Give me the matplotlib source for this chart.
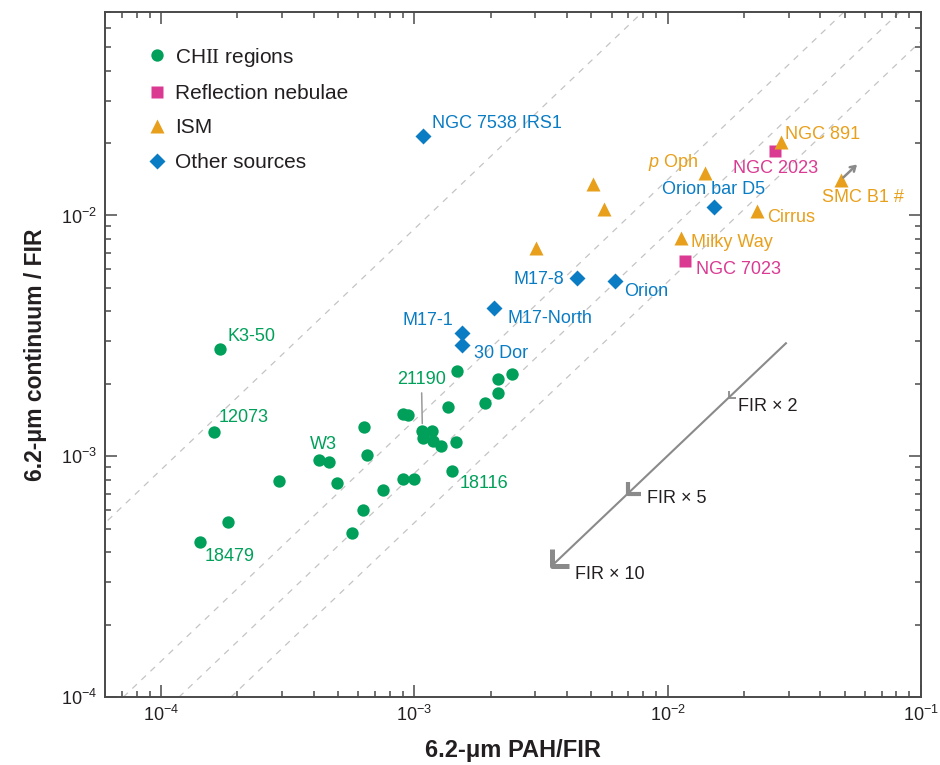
import numpy as np
import matplotlib
matplotlib.use("Agg")
import matplotlib.pyplot as plt
from matplotlib.path import Path
from matplotlib.markers import MarkerStyle
from matplotlib.ticker import LogLocator, LogFormatterSciNotation, NullFormatter

plt.rcParams["font.family"] = ["Liberation Sans", "DejaVu Sans"]
plt.rcParams["mathtext.fontset"] = "custom"
plt.rcParams["mathtext.rm"] = "Liberation Serif"
plt.rcParams["mathtext.it"] = "Liberation Sans:italic"
plt.rcParams["mathtext.bf"] = "Liberation Sans:bold"
plt.rcParams["mathtext.sf"] = "Liberation Sans"

# compact HII regions
chii_x = [1.71e-4, 1.61e-4, 1.42e-4, 1.84e-4, 2.92e-4, 4.18e-4, 4.60e-4, 4.94e-4,
          6.31e-4, 6.49e-4, 6.28e-4, 5.65e-4, 7.53e-4, 9.05e-4, 1.00e-3, 8.99e-4,
          9.44e-4, 1.075e-3, 1.17e-3, 1.078e-3, 1.18e-3, 1.274e-3, 1.455e-3,
          1.403e-3, 1.361e-3, 1.468e-3, 1.893e-3, 2.13e-3, 2.14e-3, 2.42e-3]
chii_y = [2.79e-3, 1.26e-3, 4.39e-4, 5.34e-4, 7.90e-4, 9.69e-4, 9.44e-4, 7.72e-4,
          1.328e-3, 1.01e-3, 5.96e-4, 4.81e-4, 7.22e-4, 8.08e-4, 8.03e-4, 1.504e-3,
          1.479e-3, 1.279e-3, 1.27e-3, 1.191e-3, 1.154e-3, 1.104e-3, 1.147e-3,
          8.69e-4, 1.603e-3, 2.27e-3, 1.66e-3, 2.09e-3, 1.83e-3, 2.19e-3]

# reflection nebulae
rn_names = ["NGC 2023", "NGC 7023"]
rn_x = [0.0266, 0.01167]
rn_y = [0.0186, 6.44e-3]

# diffuse ISM
ism_names = ["NGC 891", r"$\mathit{p}$ Oph", "SMC B1 #", "Cirrus", "Milky Way", "", "", ""]
ism_x = [0.0281, 0.0140, 0.0484, 0.0226, 0.01125, 5.07e-3, 5.60e-3, 3.02e-3]
ism_y = [0.0201, 0.01507, 0.0141, 0.0104, 8.03e-3, 0.01345, 0.0106, 7.36e-3]

# other sources
oth_names = ["NGC 7538 IRS1", "Orion bar D5", "M17-8", "Orion", "M17-North", "M17-1", "30 Dor"]
oth_x = [1.085e-3, 0.01518, 4.38e-3, 6.18e-3, 2.07e-3, 1.545e-3, 1.545e-3]
oth_y = [0.0213, 0.01089, 5.48e-3, 5.32e-3, 4.11e-3, 3.24e-3, 2.89e-3]

# constant continuum/PAH ratios
guide_ratios = [8.8, 1.41, 0.85, 0.53]

# FIR scaling arrow
fir_origin = (0.0348, 3.5e-3)
fir_factors = [2, 5, 10]

GREEN = "#00A05A"
MAGENTA = "#DA3A92"
ORANGE = "#E8A01C"
BLUE = "#0A7CC4"
GREY = "#8A8A8A"
INK = "#231F20"

PX = 0.72  # pixel -> point at 100 dpi

fig = plt.figure(figsize=(9.4, 7.65), dpi=100)
ax = fig.add_axes([105 / 940, 68 / 765, 816 / 940, 685 / 765])
ax.set_xscale("log")
ax.set_yscale("log")
ax.set_xlim(6e-5, 0.1)
ax.set_ylim(1e-4, 0.07)

gx = np.array([1e-5, 1.0])
for r in guide_ratios:
    ax.plot(gx, r * gx, ls=(0, (5, 5)), color="#C4C4C4", lw=0.9, zorder=1)

ax.plot(chii_x, chii_y, "o", ms=8.9, color=GREEN, mec="none", zorder=3,
        label=r"CH$\mathrm{II}$ regions")
ax.plot(rn_x, rn_y, "s", ms=8.0, color=MAGENTA, mec="none", zorder=3,
        label="Reflection nebulae")
ax.plot(ism_x, ism_y, "^", ms=9.6, color=ORANGE, mec="none", zorder=3, label="ISM")
ax.plot(oth_x, oth_y, "D", ms=8.5, color=BLUE, mec="none", zorder=4,
        label="Other sources")


def tag(text, x, y, dx, dy, color, ha="left"):
    ax.annotate(text, (x, y), xytext=(dx * PX, dy * PX), textcoords="offset points",
                ha=ha, va="center", fontsize=13, color=color, zorder=5)


# CHII labels (index into chii arrays)
tag("K3-50", chii_x[0], chii_y[0], 7, 12, GREEN)
tag("12073", chii_x[1], chii_y[1], 5, 15, GREEN)
tag("18479", chii_x[2], chii_y[2], 5, -14, GREEN)
tag("W3", chii_x[5], chii_y[5], -9, 15, GREEN)
tag("18116", chii_x[23], chii_y[23], 8, -13, GREEN)
ax.annotate("21190", (chii_x[17], chii_y[17]), xytext=(-1 * PX, 51 * PX),
            textcoords="offset points", ha="center", va="center", fontsize=13,
            color=GREEN, zorder=5,
            arrowprops=dict(arrowstyle="-", color="#9A9A9A", lw=1.1,
                            shrinkA=1.5, shrinkB=5))

rn_off = [(0, -18, "center"), (11, -8, "left")]
for name, x, y, (dx, dy, ha) in zip(rn_names, rn_x, rn_y, rn_off):
    tag(name, x, y, dx, dy, MAGENTA, ha)

ism_off = [(4, 8, "left"), (-6, 10, "right"), (22, -18, "center"),
           (10, -6, "left"), (10, -4, "left")]
for name, x, y, (dx, dy, ha) in zip(ism_names, ism_x, ism_y, ism_off):
    tag(name, x, y, dx, dy, ORANGE, ha)

oth_off = [(9, 13, "left"), (0, 17, "center"), (-13, -1, "right"), (9, -10, "left"),
           (13, -10, "left"), (-9, 13, "right"), (12, -8, "left")]
for name, x, y, (dx, dy, ha) in zip(oth_names, oth_x, oth_y, oth_off):
    tag(name, x, y, dx, dy, BLUE, ha)

# SMC B1 lower-limit arrow
ax.annotate("", xy=(ism_x[2] * 1.155, ism_y[2] * 1.155),
            xytext=(ism_x[2] * 1.02, ism_y[2] * 1.02),
            arrowprops=dict(arrowstyle="->,head_length=0.35,head_width=0.22",
                            color=GREY, lw=1.8, shrinkA=0, shrinkB=0), zorder=4)

# FIR scaling arrow with chevrons at each factor
fx0, fy0 = fir_origin
ax.plot([fx0 / 1.18, fx0 / fir_factors[-1]], [fy0 / 1.18, fy0 / fir_factors[-1]],
        color=GREY, lw=1.5, solid_capstyle="butt", zorder=2)
chevron = Path([(0, 1), (0, 0), (1, 0)], [Path.MOVETO, Path.LINETO, Path.LINETO])
chev_ms = [9.5, 18, 24.5]
chev_mew = [1.3, 3.0, 3.6]
chev_txt = [(9, -9), (19, -5), (23, -8)]
for f, ms, mew, (dx, dy) in zip(fir_factors, chev_ms, chev_mew, chev_txt):
    ax.plot([fx0 / f], [fy0 / f], ls="none",
            marker=MarkerStyle(chevron, joinstyle="miter", capstyle="butt"),
            ms=ms, mew=mew, mec=GREY, mfc="none", zorder=2)
    ax.annotate(f"FIR × {f}", (fx0 / f, fy0 / f), xytext=(dx * PX, dy * PX),
                textcoords="offset points", ha="left", va="center",
                fontsize=13, color=INK)

leg = ax.legend(loc="upper left", bbox_to_anchor=(0.051, 0.951), frameon=False,
                fontsize=15, handlelength=1.0, handletextpad=0.35, labelspacing=0.74,
                borderaxespad=0, borderpad=0, numpoints=1)
for t in leg.get_texts():
    t.set_color(INK)

for s in ax.spines.values():
    s.set_linewidth(1.4)
    s.set_color("#4A4A4A")

ax.xaxis.set_major_locator(LogLocator(base=10, numticks=10))
ax.yaxis.set_major_locator(LogLocator(base=10, numticks=10))
ax.xaxis.set_minor_locator(LogLocator(base=10, subs=np.arange(2, 10), numticks=20))
ax.yaxis.set_minor_locator(LogLocator(base=10, subs=np.arange(2, 10), numticks=20))
ax.xaxis.set_major_formatter(LogFormatterSciNotation())
ax.yaxis.set_major_formatter(LogFormatterSciNotation())
ax.xaxis.set_minor_formatter(NullFormatter())
ax.yaxis.set_minor_formatter(NullFormatter())
ax.tick_params(which="both", direction="in", top=True, right=True,
               color="#4A4A4A", width=1.1, labelsize=13, labelcolor=INK, pad=6)
ax.tick_params(which="major", length=8.5)
ax.tick_params(which="minor", length=4.3)

ax.set_xlabel("6.2-μm PAH/FIR", fontsize=17, fontweight="bold", color=INK, labelpad=10)
ax.set_ylabel("6.2-μm continuum / FIR", fontsize=16.5, fontweight="bold", color=INK,
              labelpad=10)

fig.savefig("out.png", dpi=100)
